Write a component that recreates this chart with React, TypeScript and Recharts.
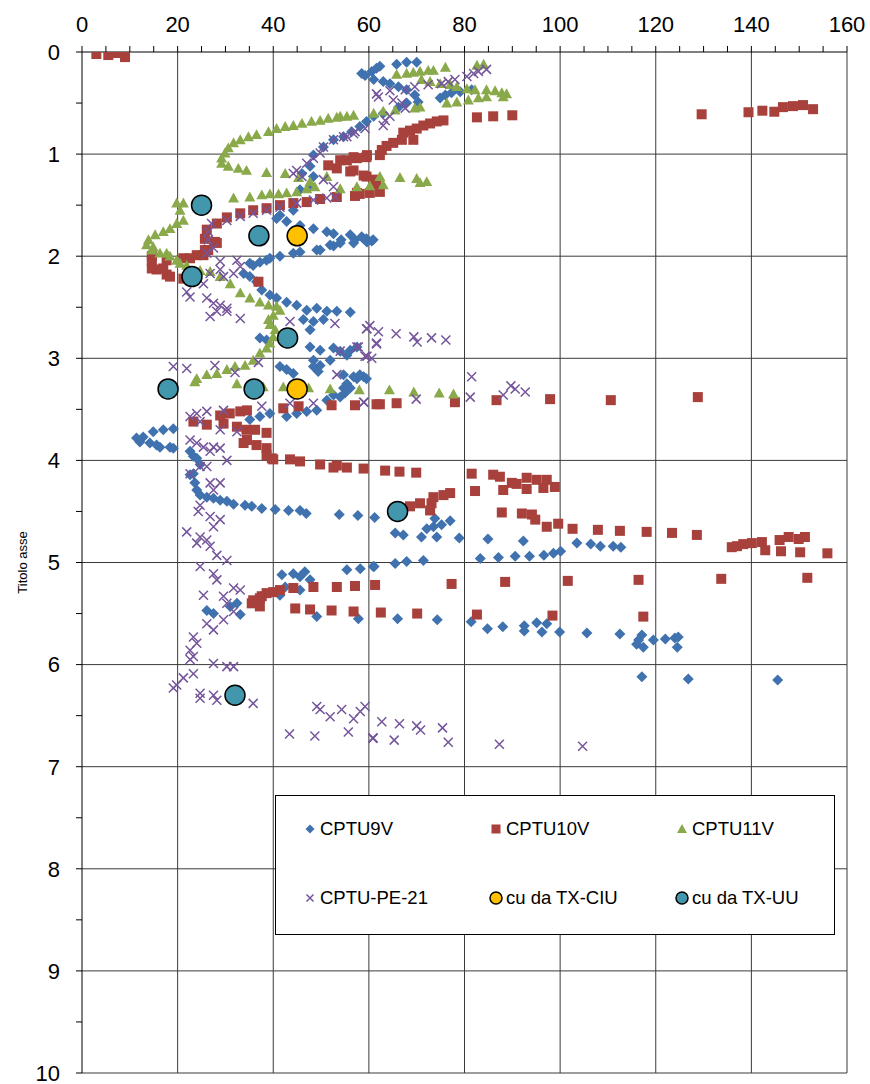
import React from "react";
import {
  ScatterChart,
  Scatter,
  XAxis,
  YAxis,
  CartesianGrid,
  Legend,
} from "recharts";

type Pt = [number, number]; // [cu (kPa), depth (m)]

const FONT = '"Liberation Sans", Arial, sans-serif';

const xTicks = [0, 5, 10, 15, 20, 25, 30, 35, 40, 45, 50, 55, 60, 65, 70, 75, 80, 85, 90, 95, 100, 105, 110, 115, 120, 125, 130, 135, 140, 145, 150, 155, 160];
const yTicks = [0, 0.5, 1, 1.5, 2, 2.5, 3, 3.5, 4, 4.5, 5, 5.5, 6, 6.5, 7, 7.5, 8, 8.5, 9, 9.5, 10];
const xGrid = [20, 40, 60, 80, 100, 120, 140, 160];
const yGrid = [1, 2, 3, 4, 5, 6, 7, 8, 9, 10];

const cptu9v: Pt[] = [
  [58.5, 0.21], [59.2, 0.23], [60.6, 0.19], [61.6, 0.16], [62.3, 0.14], [61.0, 0.27], [63.0, 0.29], [64.4, 0.31],
  [65.8, 0.12], [67.9, 0.10], [70.0, 0.10], [66.2, 0.34], [67.9, 0.37], [69.6, 0.42], [74.9, 0.45], [76.0, 0.42],
  [77.3, 0.40], [79.1, 0.39], [81.5, 0.37], [70.3, 0.49], [67.9, 0.50], [66.2, 0.54], [63.0, 0.60], [61.0, 0.63],
  [59.5, 0.68], [58.1, 0.73], [56.4, 0.78], [54.7, 0.83], [52.6, 0.86], [50.5, 0.93], [48.4, 1.01], [47.7, 1.12],
  [46.0, 1.19], [48.4, 1.22], [47.7, 1.32], [45.6, 1.35],
  [44.2, 1.55], [41.4, 1.60], [40.7, 1.63], [42.8, 1.66], [45.6, 1.70], [48.4, 1.73], [51.2, 1.76], [52.6, 1.78],
  [56.1, 1.79], [58.9, 1.83], [60.9, 1.84], [57.1, 1.84], [54.2, 1.84], [58.5, 1.81], [59.5, 1.83], [60.6, 1.85],
  [49.1, 1.94], [51.9, 1.89], [54.0, 1.87], [44.2, 1.97], [41.4, 2.0], [38.6, 2.04], [35.8, 2.09],
  [33.8, 2.17], [35.1, 2.07], [37.2, 2.06], [39.3, 2.02], [45.6, 1.96], [49.8, 1.94], [52.6, 1.9], [56.8, 1.87], [59.6, 1.86],
  [35.1, 2.20], [36.5, 2.25], [37.6, 2.33], [39.3, 2.38], [40.7, 2.41], [42.8, 2.45], [44.9, 2.48], [47.0, 2.53],
  [49.1, 2.51], [51.2, 2.54], [53.3, 2.54], [56.1, 2.55], [46.3, 2.62], [48.4, 2.64], [50.5, 2.62], [47.7, 2.72],
  [37.2, 2.80], [38.6, 2.82], [47.7, 2.89], [49.8, 2.92], [52.6, 2.90], [54.0, 2.93], [56.1, 2.92], [48.4, 3.02],
  [49.8, 3.07], [51.9, 3.02], [55.4, 2.97], [57.5, 2.89], [48.4, 3.08], [49.4, 3.13], [41.4, 3.08], [42.8, 3.11], [44.2, 3.15],
  [55.4, 3.25], [57.5, 3.20], [58.9, 3.18], [54.7, 3.29], [52.6, 3.36], [51.2, 3.41], [49.1, 3.51], [47.0, 3.52],
  [44.9, 3.54], [42.8, 3.57], [39.3, 3.54], [37.2, 3.57], [35.1, 3.60], [54.7, 3.16], [56.8, 3.18], [58.1, 3.16],
  [59.5, 3.20], [56.1, 3.29], [55.0, 3.34], [54.0, 3.38],
  [19.1, 3.69], [17.0, 3.70], [14.9, 3.72], [12.8, 3.77], [11.4, 3.78], [12.1, 3.82], [14.2, 3.83], [16.3, 3.87],
  [19.1, 3.88], [22.6, 3.91], [23.3, 3.96], [15.6, 3.85], [18.4, 3.87], [24.0, 3.98], [24.7, 4.04], [23.3, 4.13],
  [22.6, 4.14], [23.6, 4.22], [24.0, 4.29], [24.7, 4.34], [26.1, 4.36], [27.5, 4.37], [28.9, 4.39], [30.3, 4.40],
  [31.7, 4.43], [34.1, 4.44], [35.5, 4.45], [37.6, 4.47], [40.4, 4.48], [43.2, 4.49], [45.6, 4.49], [46.9, 4.52],
  [53.8, 4.53], [57.7, 4.54], [61.2, 4.56],
  [65.5, 4.71], [67.2, 4.73], [71.0, 4.75], [74.2, 4.75], [73.8, 4.57], [72.1, 4.67], [73.5, 4.65], [75.2, 4.63],
  [77.0, 4.59], [78.9, 4.76], [84.9, 4.77], [92.3, 4.79], [83.3, 4.96], [87.1, 4.95], [90.6, 4.94], [93.6, 4.94],
  [96.6, 4.93], [98.6, 4.91], [100.1, 4.89], [103.5, 4.81], [106.4, 4.82], [108.4, 4.84], [111.1, 4.84], [112.7, 4.85],
  [61.1, 5.04], [65.5, 5.01], [67.9, 4.99], [71.4, 4.98],
  [41.8, 5.12], [44.2, 5.11], [46.6, 5.09], [45.6, 5.14], [47.7, 5.17], [55.4, 5.07], [58.2, 5.06], [60.9, 5.04],
  [45.6, 5.27], [42.5, 5.24], [41.4, 5.32], [32.4, 5.40], [31.0, 5.43], [33.1, 5.51], [26.1, 5.47], [27.5, 5.50],
  [49.1, 5.53], [57.8, 5.55],
  [66.0, 5.55], [74.3, 5.56], [81.4, 5.58], [84.8, 5.65], [88.0, 5.63], [92.5, 5.62], [92.5, 5.67], [95.1, 5.59],
  [96.2, 5.68], [97.2, 5.60], [99.9, 5.68], [105.6, 5.69], [112.5, 5.70], [116.0, 5.80], [117.1, 5.71], [117.4, 5.83],
  [116.4, 5.76], [119.5, 5.76], [122.0, 5.75], [124.0, 5.74], [124.5, 5.83], [124.7, 5.73], [117.1, 6.12], [126.8, 6.14],
  [145.5, 6.15],
];

const cptu10v: Pt[] = [
  [3.0, 0.02], [5.5, 0.03], [7.1, 0.01], [9.0, 0.05],
  [129.6, 0.61], [139.4, 0.59], [142.3, 0.575], [144.8, 0.585], [146.6, 0.54], [148.7, 0.53], [150.8, 0.52], [152.9, 0.56],
  [82.6, 0.64], [86.0, 0.63], [90.0, 0.62],
  [75.6, 0.67], [74.2, 0.68], [72.8, 0.70], [71.4, 0.72], [70.0, 0.75], [68.6, 0.77], [67.2, 0.79], [66.9, 0.86],
  [69.3, 0.86], [65.1, 0.89], [63.7, 0.92], [62.7, 0.96], [62.3, 1.01], [59.5, 1.03], [57.5, 1.04], [55.4, 1.06],
  [59.6, 1.01], [56.8, 1.03], [54.0, 1.06], [51.5, 1.11], [53.3, 1.14], [56.1, 1.17], [58.9, 1.21], [60.9, 1.25],
  [56.8, 1.16], [59.5, 1.22], [61.6, 1.29], [62.3, 1.37], [60.2, 1.38], [58.1, 1.39], [57.1, 1.41],
  [57.5, 1.38], [53.3, 1.42], [49.8, 1.44], [47.0, 1.47], [44.2, 1.48], [41.4, 1.50], [38.6, 1.53], [35.8, 1.55],
  [33.1, 1.58], [30.3, 1.62], [28.2, 1.68], [26.1, 1.74], [25.7, 1.83], [27.8, 1.86], [25.7, 1.94], [24.0, 1.99],
  [21.2, 2.02], [17.7, 2.04], [14.6, 2.05],
  [14.6, 2.00], [15.6, 2.13], [17.7, 2.18], [18.4, 2.20], [21.2, 2.22], [22.6, 2.02], [25.4, 1.99], [26.4, 1.94],
  [28.2, 1.87], [36.9, 2.25], [14.6, 2.12], [17.0, 2.12],
  [42.1, 3.49], [45.3, 3.47], [52.2, 3.46], [57.1, 3.46], [61.6, 3.45], [62.3, 3.45], [65.8, 3.44], [78.0, 3.43],
  [86.7, 3.41], [97.9, 3.40], [110.6, 3.41], [128.8, 3.38],
  [28.9, 3.56], [30.9, 3.54], [33.1, 3.52], [34.5, 3.51], [23.3, 3.62], [26.1, 3.65], [29.6, 3.64], [32.4, 3.67],
  [34.4, 3.70], [36.2, 3.70], [38.6, 3.73], [34.5, 3.80], [36.5, 3.85], [38.6, 3.88], [39.7, 3.98], [43.5, 3.99],
  [45.6, 4.01], [49.8, 4.04], [53.3, 4.05], [55.4, 4.07], [58.9, 4.08], [33.8, 3.83], [38.6, 3.95], [40.0, 3.99], [52.6, 4.07],
  [63.4, 4.10], [66.4, 4.11], [69.9, 4.12], [81.5, 4.13], [86.0, 4.14], [87.4, 4.16], [89.9, 4.22], [90.9, 4.23],
  [93.0, 4.17], [95.1, 4.19], [97.2, 4.19], [98.9, 4.26], [96.5, 4.27], [93.0, 4.28], [88.1, 4.29], [82.2, 4.30],
  [77.0, 4.32], [75.6, 4.34], [73.5, 4.36], [73.1, 4.42], [70.7, 4.42], [68.6, 4.45], [72.8, 4.49], [87.8, 4.51],
  [92.0, 4.52], [94.1, 4.53], [94.8, 4.58], [97.2, 4.65], [99.6, 4.62], [102.6, 4.67], [107.9, 4.68], [112.5, 4.69],
  [118.1, 4.70], [123.4, 4.71], [128.6, 4.73], [135.9, 4.85], [137.0, 4.84], [138.3, 4.82], [140.1, 4.81], [142.2, 4.80],
  [142.9, 4.88], [145.9, 4.78], [146.2, 4.89], [147.8, 4.75], [149.9, 4.77], [151.2, 4.75], [150.2, 4.90], [155.9, 4.91],
  [61.3, 5.22], [77.3, 5.21], [88.5, 5.19], [101.6, 5.18], [116.4, 5.17], [133.7, 5.16], [151.7, 5.15],
  [62.5, 5.49], [70.1, 5.50], [82.6, 5.51], [98.4, 5.52], [117.4, 5.53],
  [35.5, 5.40], [37.2, 5.43], [37.6, 5.33], [38.6, 5.30], [40.0, 5.29], [41.4, 5.27], [44.2, 5.25], [48.4, 5.24],
  [53.3, 5.24], [57.1, 5.23], [44.6, 5.45], [47.7, 5.46], [52.2, 5.47], [56.8, 5.48], [37.2, 5.35], [35.8, 5.37],
];

const cptu11v: Pt[] = [
  [65.8, 0.22], [67.9, 0.21], [69.3, 0.20], [70.7, 0.19], [72.4, 0.18], [73.5, 0.18], [76.0, 0.15], [82.6, 0.13],
  [84.0, 0.12], [71.0, 0.27], [72.8, 0.29], [74.9, 0.31], [77.0, 0.32], [78.4, 0.34], [80.5, 0.36], [82.2, 0.37],
  [84.6, 0.37], [86.4, 0.38], [87.8, 0.40], [88.8, 0.41], [88.1, 0.44], [84.6, 0.44], [82.9, 0.45], [80.8, 0.47],
  [78.4, 0.49], [76.3, 0.50], [70.7, 0.54], [69.6, 0.55], [65.5, 0.57], [63.0, 0.58], [61.0, 0.60], [56.8, 0.62],
  [55.4, 0.63], [54.0, 0.63], [53.3, 0.64], [51.5, 0.65], [49.8, 0.67], [48.0, 0.68], [46.0, 0.70], [44.2, 0.72],
  [42.5, 0.73], [40.7, 0.75], [39.0, 0.78], [36.5, 0.81], [34.8, 0.83], [33.1, 0.86], [31.7, 0.89], [30.6, 0.94],
  [29.9, 0.99], [29.2, 1.04], [29.2, 1.09], [30.6, 1.12], [32.7, 1.14], [34.4, 1.16], [38.6, 1.18], [42.5, 1.19],
  [45.3, 1.23], [47.7, 1.27],
  [54.0, 1.34], [57.5, 1.32], [60.2, 1.31], [62.3, 1.22], [63.0, 1.30], [66.5, 1.23], [70.0, 1.24], [70.7, 1.28],
  [72.1, 1.27], [51.2, 1.22],
  [31.7, 1.43], [35.1, 1.42], [37.6, 1.40], [39.3, 1.39], [41.1, 1.39], [42.8, 1.38], [44.9, 1.37], [47.0, 1.34], [48.7, 1.32],
  [19.8, 1.48], [21.2, 1.48], [20.5, 1.55], [21.2, 1.65], [19.8, 1.68], [18.4, 1.73], [17.0, 1.76], [15.3, 1.79],
  [13.9, 1.84], [13.5, 1.89], [14.6, 1.94], [16.3, 1.97], [18.4, 2.00], [19.8, 2.04], [20.5, 2.07],
  [14.9, 1.91], [17.7, 1.97], [21.9, 2.09], [24.7, 2.14], [26.8, 2.15], [28.9, 2.20], [31.0, 2.27], [33.1, 2.36],
  [35.1, 2.41], [37.2, 2.45], [39.0, 2.48], [40.7, 2.49], [41.4, 2.53], [40.0, 2.58], [39.0, 2.62], [39.3, 2.67],
  [40.4, 2.72], [40.0, 2.79], [39.3, 2.85], [38.6, 2.90], [37.2, 2.95], [35.8, 3.02], [34.1, 3.07], [32.0, 3.08],
  [30.3, 3.11], [28.2, 3.15], [26.1, 3.16], [24.0, 3.20], [23.6, 3.23],
  [32.4, 3.25], [37.9, 3.28], [42.1, 3.28], [47.4, 3.29], [51.9, 3.30], [58.0, 3.31], [64.3, 3.31], [69.4, 3.33],
  [74.7, 3.34], [77.7, 3.35],
];

const cptuPe21: Pt[] = [
  [80.5, 0.24], [81.9, 0.21], [82.9, 0.19], [84.6, 0.17], [78.0, 0.27], [76.6, 0.29], [75.2, 0.31], [72.4, 0.32],
  [69.6, 0.34], [67.6, 0.37], [64.4, 0.38], [61.6, 0.41], [62.0, 0.44], [65.1, 0.47], [66.9, 0.50], [67.6, 0.55],
  [64.4, 0.63], [63.4, 0.67], [63.0, 0.72], [59.2, 0.75], [57.1, 0.78], [55.4, 0.83],
  [56.8, 0.80], [54.7, 0.83], [52.6, 0.86], [50.5, 0.93], [49.8, 0.99], [48.4, 1.04], [47.0, 1.09], [44.9, 1.16],
  [44.2, 1.19], [46.0, 1.22], [50.5, 1.25], [52.6, 1.32], [52.9, 1.42], [51.2, 1.43], [48.4, 1.45], [44.9, 1.48],
  [41.4, 1.52], [38.6, 1.55], [35.8, 1.58], [33.1, 1.61], [30.3, 1.65], [27.1, 1.68], [26.4, 1.76], [26.4, 1.84],
  [27.5, 1.92], [26.1, 1.97], [28.9, 2.05], [32.4, 2.04], [33.1, 2.10],
  [28.9, 2.13], [26.8, 2.17], [25.4, 2.27], [29.6, 2.20], [31.7, 2.17], [26.1, 2.41], [27.5, 2.46], [28.9, 2.48],
  [30.3, 2.51], [28.2, 2.54], [26.8, 2.59], [21.9, 2.35], [22.6, 2.40], [33.1, 2.61], [30.3, 2.54], [43.5, 2.64],
  [52.9, 2.66], [59.6, 2.71], [61.6, 2.85], [59.6, 2.98], [57.5, 2.89], [54.0, 2.93], [53.3, 3.16], [19.1, 3.08],
  [21.9, 3.10], [27.8, 3.07], [32.0, 3.14], [36.9, 3.04], [37.6, 3.47], [43.5, 3.44], [48.4, 3.44], [58.9, 3.43],
  [22.6, 3.57], [24.0, 3.54], [26.1, 3.52], [29.6, 3.51], [22.6, 3.80], [24.0, 3.83], [27.5, 3.87], [24.7, 3.62],
  [28.9, 3.70], [32.4, 3.72],
  [59.5, 2.71], [60.2, 2.68], [62.0, 2.74], [65.7, 2.76], [69.4, 2.79], [70.1, 2.84], [73.1, 2.80], [76.1, 2.82],
  [61.6, 2.86], [57.8, 2.89], [59.2, 2.98], [60.6, 3.00], [59.0, 3.43], [69.9, 3.40], [81.5, 3.18], [81.2, 3.38],
  [88.1, 3.36], [89.7, 3.27], [90.6, 3.30], [92.7, 3.33],
  [25.4, 3.87], [26.8, 3.91], [28.9, 3.88], [30.3, 4.00], [22.6, 4.13], [24.7, 4.06], [26.1, 4.06], [26.8, 4.22],
  [28.9, 4.22], [27.5, 4.29], [24.7, 4.44], [24.3, 4.50], [26.8, 4.55], [28.9, 4.58], [27.5, 4.65], [21.9, 4.70],
  [24.7, 4.75], [26.1, 4.78], [24.0, 4.81], [26.8, 4.84], [28.2, 4.93], [30.3, 4.98], [24.7, 5.04], [27.5, 5.11],
  [28.2, 5.17], [25.4, 5.32], [29.6, 5.33], [31.7, 5.25], [33.1, 5.27], [30.3, 5.40], [31.7, 5.48], [29.6, 5.56],
  [26.1, 5.60], [27.5, 5.66], [23.3, 5.73], [24.0, 5.79], [22.6, 5.86], [23.3, 5.92], [22.6, 5.95], [27.5, 5.99],
  [30.3, 6.02], [31.7, 6.02], [23.3, 6.09], [21.2, 6.13], [19.8, 6.20], [19.1, 6.23], [24.7, 6.28], [27.5, 6.30],
  [28.2, 6.35], [35.8, 6.38], [24.7, 6.33],
  [62.7, 6.56], [66.4, 6.58], [70.0, 6.60], [70.8, 6.64], [75.4, 6.62], [60.9, 6.72], [65.3, 6.74], [76.6, 6.76],
  [87.3, 6.78], [104.7, 6.80], [49.1, 6.41], [49.8, 6.44], [51.9, 6.51], [54.3, 6.44], [56.8, 6.53], [58.2, 6.46],
  [59.2, 6.41], [43.4, 6.68], [48.7, 6.70], [55.7, 6.66], [60.8, 6.72],
];

const txCiu: Pt[] = [[45, 1.8], [45, 3.3]];
const txUu: Pt[] = [[25, 1.5], [37, 1.8], [23, 2.2], [43, 2.8], [18, 3.3], [36, 3.3], [66, 4.5], [32, 6.3]];

const toRows = (pts: Pt[]) => pts.map(([x, y]) => ({ x, y }));

type Kind = "diamond" | "square" | "triangle" | "x" | "circle";

// marker path around (cx, cy); r is half the marker size
function Marker({ kind, cx, cy, r, color }: { kind: Kind; cx: number; cy: number; r: number; color: string }) {
  switch (kind) {
    case "diamond":
      return <path d={`M${cx},${cy - r}L${cx + r},${cy}L${cx},${cy + r}L${cx - r},${cy}Z`} fill={color} />;
    case "square":
      return <rect x={cx - r} y={cy - r} width={2 * r} height={2 * r} fill={color} />;
    case "triangle":
      return <path d={`M${cx},${cy - r}L${cx + r},${cy + r * 0.8}L${cx - r},${cy + r * 0.8}Z`} fill={color} />;
    case "x":
      return (
        <path
          d={`M${cx - r},${cy - r}L${cx + r},${cy + r}M${cx - r},${cy + r}L${cx + r},${cy - r}`}
          stroke={color}
          strokeWidth={1.5}
          fill="none"
        />
      );
    default:
      return <circle cx={cx} cy={cy} r={r} fill={color} stroke="#000" strokeWidth={1.5} />;
  }
}

const series: { name: string; data: Pt[]; color: string; kind: Kind; r: number; lr: number }[] = [
  { name: "CPTU9V", data: cptu9v, color: "#3F72AE", kind: "diamond", r: 5.5, lr: 4.5 },
  { name: "CPTU10V", data: cptu10v, color: "#A8403C", kind: "square", r: 5, lr: 4.5 },
  { name: "CPTU11V", data: cptu11v, color: "#8AA94A", kind: "triangle", r: 5.5, lr: 5 },
  { name: "CPTU-PE-21", data: cptuPe21, color: "#74559A", kind: "x", r: 4.5, lr: 3.5 },
  { name: "cu da TX-CIU", data: txCiu, color: "#FFC000", kind: "circle", r: 10, lr: 6 },
  { name: "cu da TX-UU", data: txUu, color: "#4397AD", kind: "circle", r: 10, lr: 6 },
];

// legend slot offsets inside the box: [left of marker, top of row]
const legendCols = [26, 212, 398];
const legendRows = [22, 91];

function LegendBox() {
  return (
    <div
      style={{
        position: "relative",
        width: 560,
        height: 140,
        boxSizing: "border-box",
        background: "#fff",
        border: "1px solid #000",
        fontFamily: FONT,
        fontSize: 18.5,
        color: "#000",
      }}
    >
      {series.map((s, i) => (
        <div
          key={s.name}
          style={{
            position: "absolute",
            left: legendCols[i % 3],
            top: legendRows[Math.floor(i / 3)],
            display: "flex",
            alignItems: "center",
            height: 22,
            whiteSpace: "nowrap",
          }}
        >
          <svg width={16} height={16} style={{ marginRight: 2 }}>
            <Marker kind={s.kind} cx={8} cy={8} r={s.lr} color={s.color} />
          </svg>
          <span>{s.name}</span>
        </div>
      ))}
    </div>
  );
}

const axisTick = { fontSize: 22, fill: "#000", fontFamily: FONT };

export default function App() {
  return (
    <div style={{ position: "absolute", left: 0, top: 0, background: "#fff" }}>
      <ScatterChart width={870} height={1084} margin={{ top: 0, right: 23, bottom: 11, left: 0 }}>
        <CartesianGrid
          stroke="#3a3a3a"
          strokeWidth={1}
          verticalValues={xGrid}
          horizontalValues={yGrid}
        />
        <XAxis
          type="number"
          dataKey="x"
          orientation="top"
          domain={[0, 160]}
          ticks={xTicks}
          interval={0}
          height={52}
          allowDataOverflow
          tickSize={6}
          tickMargin={14}
          tickLine={{ stroke: "#000" }}
          axisLine={{ stroke: "#000" }}
          tick={axisTick}
          tickFormatter={(v: number) => (v % 20 === 0 ? String(v) : "")}
        />
        <YAxis
          type="number"
          dataKey="y"
          domain={[0, 10]}
          ticks={yTicks}
          interval={0}
          reversed
          width={82}
          allowDataOverflow
          tickSize={6}
          tickMargin={16}
          tickLine={{ stroke: "#000" }}
          axisLine={{ stroke: "#000" }}
          tick={axisTick}
          tickFormatter={(v: number) => (Number.isInteger(v) ? String(v) : "")}
          label={{
            content: (props: any) => {
              const vb = props.viewBox || { y: 52, height: 1021 };
              const cy = vb.y + vb.height / 2;
              return (
                <text
                  x={22}
                  y={cy}
                  transform={`rotate(-90 22 ${cy})`}
                  textAnchor="middle"
                  dominantBaseline="central"
                  fontSize={13}
                  fontFamily={FONT}
                  fill="#000"
                >
                  Titolo asse
                </text>
              );
            },
          }}
        />
        {series.map((s) => (
          <Scatter
            key={s.name}
            name={s.name}
            data={toRows(s.data)}
            isAnimationActive={false}
            shape={(p: any) => <Marker kind={s.kind} cx={p.cx} cy={p.cy} r={s.r} color={s.color} />}
          />
        ))}
        <Legend
          layout="horizontal"
          verticalAlign="middle"
          align="center"
          wrapperStyle={{ left: 275, top: 795, width: 560, height: 140 }}
          content={() => <LegendBox />}
        />
      </ScatterChart>
    </div>
  );
}
